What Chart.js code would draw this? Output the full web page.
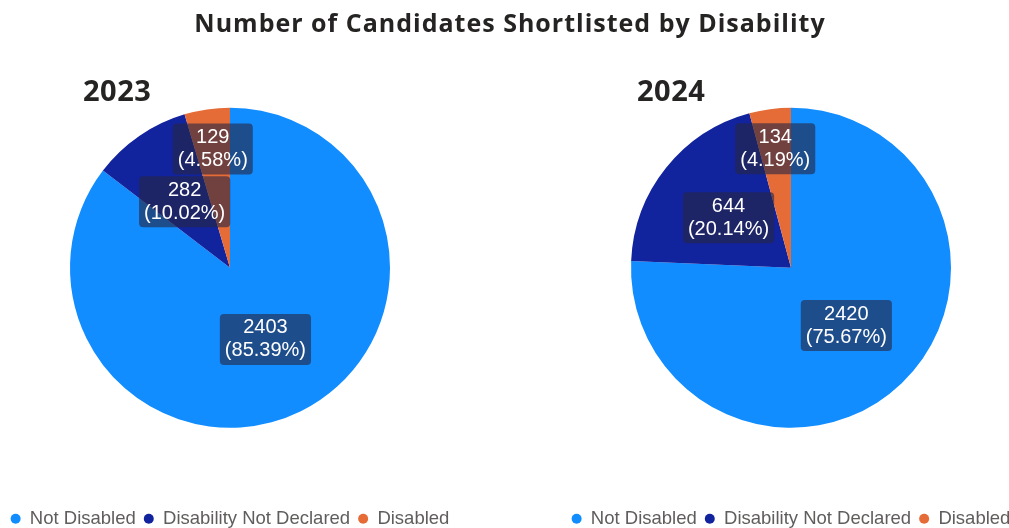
<!DOCTYPE html>
<html>
<head>
<meta charset="utf-8">
<script src="https://cdn.jsdelivr.net/npm/chart.js@4.4.1/dist/chart.umd.min.js"></script>
<style>
  html, body { margin: 0; padding: 0; background: #fff; width: 1009px; height: 528px; overflow: hidden; }
  #wrap { position: relative; width: 1009px; height: 528px; overflow: hidden; }
  .title { position: absolute; left: 0; width: 1020px; top: 5px; text-align: center; white-space: nowrap;
           font-family: "Open Sans", sans-serif; font-weight: 700; font-size: 25px; letter-spacing: 1px; color: #252423; }
  .year { position: absolute; font-family: "Open Sans", sans-serif; font-weight: 700; font-size: 29px; line-height: 29px; letter-spacing: 0.5px; color: #252423; }
  .box { position: absolute; top: 0; width: 460px; height: 538px; }
</style>
</head>
<body>
<div id="wrap">
  <div class="box" style="left:0px;"><canvas id="c1"></canvas></div>
  <div class="box" style="left:561px;"><canvas id="c2"></canvas></div>
  <div class="title">Number of Candidates Shortlisted by Disability</div>
  <div class="year" style="left:83px; top:75px;">2023</div>
  <div class="year" style="left:637px; top:75px;">2024</div>
</div>
<script>
const categories = ["Not Disabled", "Disability Not Declared", "Disabled"];
const values2023 = [2403, 282, 129];
const values2024 = [2420, 644, 134];
const colors = ["#118DFF", "#12239E", "#E66C37"];

const labelPlugin = {
  id: "sliceLabels",
  afterDatasetsDraw(chart) {
    const ctx = chart.ctx;
    const ds = chart.data.datasets[0];
    const total = ds.data.reduce((a, b) => a + b, 0);
    const meta = chart.getDatasetMeta(0);
    ctx.save();
    ctx.font = '20px "Liberation Sans", Arial, sans-serif';
    ctx.textAlign = "center";
    ctx.textBaseline = "middle";
    meta.data.forEach((arc, i) => {
      const v = ds.data[i];
      const pct = v / total;
      const p = arc.getProps(["x", "y", "startAngle", "endAngle", "outerRadius"], true);
      const mid = (p.startAngle + p.endAngle) / 2;
      const f = pct < 0.06 ? 0.75 : 0.5;
      const cx = p.x + Math.cos(mid) * p.outerRadius * f;
      const cy = p.y + Math.sin(mid) * p.outerRadius * f;
      const l1 = String(v);
      const l2 = "(" + (pct * 100).toFixed(2) + "%)";
      const w = Math.max(ctx.measureText(l1).width, ctx.measureText(l2).width) + 10;
      const h = 51;
      ctx.fillStyle = "rgba(38, 38, 68, 0.62)";
      ctx.beginPath();
      ctx.roundRect(cx - w / 2, cy - h / 2, w, h, 4);
      ctx.fill();
      ctx.fillStyle = "#ffffff";
      ctx.fillText(l1, cx, cy - 11.5);
      ctx.fillText(l2, cx, cy + 11.5);
    });
    ctx.restore();
  }
};

function makeChart(id, values) {
  return new Chart(document.getElementById(id), {
    type: "pie",
    data: {
      labels: categories,
      datasets: [{ data: values, backgroundColor: colors, borderWidth: 0, radius: 160 }]
    },
    options: {
      responsive: true,
      maintainAspectRatio: false,
      animation: false,
      layout: { padding: { top: 34 } },
      plugins: {
        tooltip: { enabled: false },
        legend: {
          position: "bottom",
          labels: {
            usePointStyle: true,
            pointStyle: "circle",
            pointStyleWidth: 10,
            boxHeight: 7,
            padding: 8,
            color: "#605E5C",
            font: { family: '"Liberation Sans", Arial, sans-serif', size: 18.5 }
          }
        }
      }
    },
    plugins: [labelPlugin]
  });
}
makeChart("c1", values2023);
makeChart("c2", values2024);
</script>
</body>
</html>
